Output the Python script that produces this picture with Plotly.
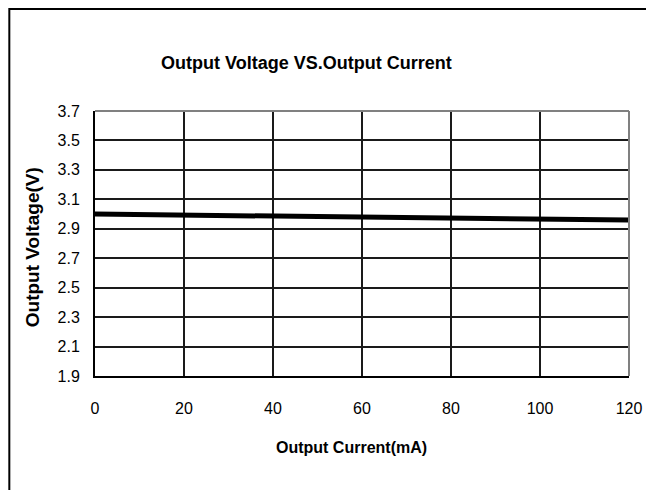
import plotly.graph_objects as go

current_mA = [0, 20, 40, 60, 80, 100, 120]
voltage_V = [3.00, 2.994, 2.988, 2.982, 2.975, 2.967, 2.959]
x_ticks = [0, 20, 40, 60, 80, 100, 120]
y_ticks = [1.9, 2.1, 2.3, 2.5, 2.7, 2.9, 3.1, 3.3, 3.5, 3.7]
y_tick_text = ["1.9", "2.1", "2.3", "2.5", "2.7", "2.9", "3.1", "3.3", "3.5", "3.7"]

FONT = "Liberation Sans, Arial, sans-serif"

fig = go.Figure()
fig.add_trace(go.Scatter(x=current_mA, y=voltage_V, mode="lines",
                         line=dict(color="black", width=5), showlegend=False,
                         hoverinfo="skip"))

# page has an 8px body margin; figure coordinates = page coordinates - 8
W, H = 646, 482
L, R, T, B = 87, 623, 103, 368


def px(fx):
    return (fx - L) / (R - L)


def py(fy):
    return (B - fy) / (B - T)


fig.update_layout(
    width=W, height=H, autosize=False,
    margin=dict(l=L, r=W - R, t=T, b=H - B, pad=0),
    paper_bgcolor="white", plot_bgcolor="white",
    font=dict(family=FONT, size=16, color="black"),
    showlegend=False,
)
fig.update_xaxes(range=[0, 120], tickvals=x_ticks, showgrid=True,
                 gridcolor="#1a1a1a", gridwidth=1.5, zeroline=False,
                 showline=True, linecolor="black", linewidth=2,
                 ticks="", ticklabelstandoff=17,
                 tickfont=dict(family=FONT, size=16, color="black"))
fig.update_yaxes(range=[1.9, 3.7], tickvals=y_ticks, ticktext=y_tick_text,
                 showgrid=True, gridcolor="#1a1a1a", gridwidth=1.5,
                 zeroline=False, showline=True, linecolor="black", linewidth=2,
                 ticks="", ticklabelstandoff=10,
                 tickfont=dict(family=FONT, size=16, color="black"))

shapes = [
    dict(type="line", xref="paper", yref="paper", x0=0, x1=1, y0=1, y1=1,
         line=dict(color="#808080", width=2)),
    dict(type="line", xref="paper", yref="paper", x0=1, x1=1, y0=0, y1=1,
         line=dict(color="#808080", width=2)),
    dict(type="rect", xref="paper", yref="paper",
         x0=px(1), x1=px(643), y0=py(500), y1=py(1),
         line=dict(color="black", width=2), fillcolor="rgba(0,0,0,0)"),
]
fig.update_layout(shapes=shapes)

annotations = [
    dict(text="<b>Output Voltage VS.Output Current</b>", xref="paper", yref="paper",
         x=px(299), y=py(55), showarrow=False,
         xanchor="center", yanchor="middle",
         font=dict(family=FONT, size=18, color="black")),
    dict(text="<b>Output Current(mA)</b>", xref="paper", yref="paper",
         x=px(344), y=py(439), showarrow=False,
         xanchor="center", yanchor="middle",
         font=dict(family=FONT, size=16, color="black")),
    dict(text="<b>Output Voltage(V)</b>", xref="paper", yref="paper",
         x=px(24), y=py(239), showarrow=False,
         xanchor="center", yanchor="middle", textangle=-90,
         font=dict(family=FONT, size=19, color="black")),
]
fig.update_layout(annotations=annotations)

fig.write_html("out.html")
